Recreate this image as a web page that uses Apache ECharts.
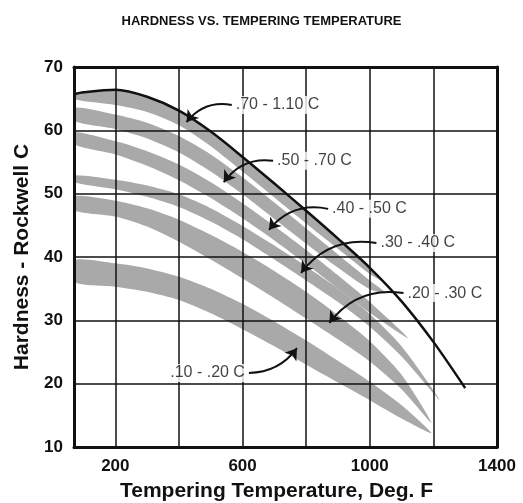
<!DOCTYPE html>
<html>
<head>
<meta charset="utf-8">
<script src="https://cdn.jsdelivr.net/npm/echarts@6/dist/echarts.min.js"></script>
<style>
  html, body { margin: 0; padding: 0; background: #fff; }
  #chart { width: 523px; height: 503px; }
</style>
</head>
<body>
<div id="chart"></div>
<script>
// 轴刻度
const xTickLabels = [200, 600, 1000, 1400]
const xGridLines = [200, 400, 600, 800, 1000, 1200]
const yGridLines = [20, 30, 40, 50, 60]

// 上边界黑线 (.70 - 1.10 C 的上沿)
const topLineT = [70, 100, 200, 300, 400, 500, 600, 700, 800, 900, 1000, 1100, 1200, 1300]
const topLineH = [65.7, 66.0, 66.4, 65.3, 63.1, 59.8, 55.8, 51.6, 47.3, 42.9, 38.3, 33.0, 26.6, 19.3]

// 各含碳量的硬度带: 温度, 上沿, 下沿
const c70T = [70, 200, 300, 400, 500, 600, 700, 800, 900, 1000, 1040]
const c70Hi = [65.7, 66.4, 65.3, 63.1, 59.8, 55.8, 51.6, 47.3, 42.9, 38.3, 36.2]
const c70Lo = [64.9, 64.0, 62.9, 60.8, 57.5, 53.5, 49.4, 45.3, 41.3, 37.3, 36.2]

const c50T = [70, 200, 300, 400, 500, 600, 700, 800, 900, 1000, 1050]
const c50Hi = [63.6, 62.5, 61.2, 59.1, 56.2, 52.6, 48.6, 44.5, 40.4, 36.3, 34.3]
const c50Lo = [61.5, 60.2, 58.7, 56.5, 53.5, 49.9, 46.0, 42.1, 38.3, 34.9, 34.3]

const c40T = [70, 200, 300, 400, 500, 600, 700, 800, 900, 1000, 1120]
const c40Hi = [59.7, 58.3, 56.7, 54.6, 51.8, 48.5, 44.9, 41.1, 37.1, 32.9, 27.2]
const c40Lo = [57.8, 56.2, 54.4, 52.1, 49.3, 46.1, 42.6, 38.9, 35.0, 31.2, 27.2]

const c30T = [70, 200, 300, 400, 500, 600, 700, 800, 900, 1000, 1100, 1220]
const c30Hi = [52.9, 52.2, 51.3, 49.9, 47.7, 44.9, 41.8, 38.5, 35.0, 31.0, 25.9, 17.4]
const c30Lo = [51.8, 50.7, 49.5, 47.9, 45.6, 42.8, 39.6, 36.3, 32.9, 29.0, 24.3, 17.4]

const c20T = [70, 200, 300, 400, 500, 600, 700, 800, 900, 1000, 1100, 1194]
const c20Hi = [49.6, 48.9, 47.7, 45.9, 43.5, 40.8, 37.8, 34.5, 30.8, 26.7, 21.4, 13.8]
const c20Lo = [47.4, 46.4, 44.8, 42.4, 39.6, 36.6, 33.5, 30.3, 27.0, 23.5, 19.1, 13.8]

const c10T = [70, 200, 300, 400, 500, 600, 700, 800, 900, 1000, 1100, 1194]
const c10Hi = [39.5, 39.0, 38.2, 36.9, 35.0, 32.6, 29.8, 26.8, 23.6, 20.3, 16.6, 12.2]
const c10Lo = [36.1, 35.3, 34.5, 33.2, 31.1, 28.6, 25.9, 23.0, 20.2, 17.4, 14.5, 12.2]

// 标注: 文字, 文字锚点, 箭头尖
const noteNames = ['.70 - 1.10 C', '.50 - .70 C', '.40 - .50 C', '.30 - .40 C', '.20 - .30 C', '.10 - .20 C']
const noteAnchor = [[566, 64.0], [696, 55.2], [869, 47.6], [1021, 42.2], [1106, 34.3], [620, 21.7]]
const noteTip = [[424, 61.3], [541, 51.8], [683, 44.3], [784, 37.5], [873, 29.6], [771, 25.6]]
const noteSide = ['right', 'right', 'right', 'right', 'right', 'left']
const noteCurve = [-0.3, -0.3, -0.3, -0.3, -0.3, -0.25]

const FONT = '"Liberation Sans", Arial, sans-serif'
const BAND = '#a9a9a9'

const bands = [
  [c70T, c70Hi, c70Lo],
  [c50T, c50Hi, c50Lo],
  [c40T, c40Hi, c40Lo],
  [c30T, c30Hi, c30Lo],
  [c20T, c20Hi, c20Lo],
  [c10T, c10Hi, c10Lo]
]

// 一条带画成一个闭合多边形: 上沿正向 + 下沿反向
const renderBand = (params, api) => {
  const [t, hi, lo] = bands[api.value(0)]
  const pts = []
  t.forEach((v, k) => pts.push(api.coord([v, hi[k]])))
  for (let k = t.length - 1; k >= 0; k--) {
    if (k === t.length - 1 && hi[k] === lo[k]) continue
    pts.push(api.coord([t[k], lo[k]]))
  }
  return {
    type: 'polygon',
    shape: { points: pts, smooth: 0.25 },
    style: { fill: BAND, stroke: null }
  }
}

const hiddenAxis = {
  axisLabel: { show: false }, axisTick: { show: false }, splitLine: { show: false },
  axisLine: { show: true, lineStyle: { color: '#111', width: 3 } }, z: 10
}

const chart = echarts.init(document.getElementById('chart'))
chart.setOption({
  backgroundColor: '#fff',
  animation: false,
  title: {
    text: 'HARDNESS VS. TEMPERING TEMPERATURE',
    left: 'center', top: 10,
    textStyle: { fontFamily: FONT, fontSize: 13, fontWeight: 'bold', color: '#111' }
  },
  grid: { left: 74, right: 26, top: 67, bottom: 56, outerBoundsMode: 'none' },
  xAxis: [{
    type: 'value', min: 70, max: 1400, position: 'bottom', z: 10,
    name: 'Tempering Temperature, Deg. F', nameLocation: 'middle', nameGap: 34,
    nameTextStyle: { fontFamily: FONT, fontSize: 21, fontWeight: 'bold', color: '#111', padding: [0, 18, 0, 0] },
    axisLine: { onZero: false, lineStyle: { color: '#111', width: 3 } },
    axisTick: { show: false },
    splitLine: { show: false },
    axisLabel: {
      customValues: xTickLabels, margin: 11, formatter: v => String(v),
      fontFamily: FONT, fontSize: 17, fontWeight: 'bold', color: '#111'
    }
  }, Object.assign({ type: 'value', min: 70, max: 1400, position: 'top' }, hiddenAxis)],
  yAxis: [{
    type: 'value', min: 10, max: 70, interval: 10, position: 'left', z: 10,
    name: 'Hardness - Rockwell C', nameLocation: 'middle', nameGap: 35, nameRotate: 90,
    nameTextStyle: { fontFamily: FONT, fontSize: 21, fontWeight: 'bold', color: '#111' },
    axisLine: { onZero: false, lineStyle: { color: '#111', width: 3 } },
    axisTick: { show: false },
    splitLine: { show: false },
    axisLabel: { margin: 11, fontFamily: FONT, fontSize: 17, fontWeight: 'bold', color: '#111' }
  }, Object.assign({ type: 'value', min: 10, max: 70, interval: 10, position: 'right' }, hiddenAxis)],
  series: [
    {
      type: 'custom', z: 2, silent: true, clip: true,
      renderItem: renderBand,
      data: bands.map((b, i) => [i])
    },
    // 网格线画在带子上面
    {
      type: 'line', data: [], z: 3, silent: true,
      markLine: {
        silent: true, symbol: 'none', animation: false,
        label: { show: false },
        lineStyle: { color: '#111', width: 1.5, type: 'solid' },
        data: [
          ...xGridLines.map(v => ({ xAxis: v })),
          ...yGridLines.map(v => ({ yAxis: v }))
        ]
      }
    },
    {
      type: 'line', smooth: 0.3, symbol: 'none', silent: true, z: 4,
      lineStyle: { color: '#111', width: 2.5 },
      data: topLineT.map((v, k) => [v, topLineH[k]])
    },
    {
      type: 'lines', coordinateSystem: 'cartesian2d', z: 5, silent: true,
      symbol: ['none', 'arrow'], symbolSize: 11,
      lineStyle: { color: '#111', width: 2, opacity: 1 },
      data: noteNames.map((n, i) => ({
        coords: [noteAnchor[i], noteTip[i]],
        lineStyle: { curveness: noteCurve[i] }
      }))
    },
    {
      type: 'scatter', z: 6, silent: true, symbolSize: 0,
      data: noteNames.map((n, i) => ({
        name: n, value: noteAnchor[i],
        label: { position: noteSide[i] }
      })),
      label: {
        show: true, formatter: '{b}', distance: 2,
        fontFamily: FONT, fontSize: 16, color: '#111',
        backgroundColor: '#fff', padding: [1, 2]
      }
    }
  ]
})
</script>
</body>
</html>
